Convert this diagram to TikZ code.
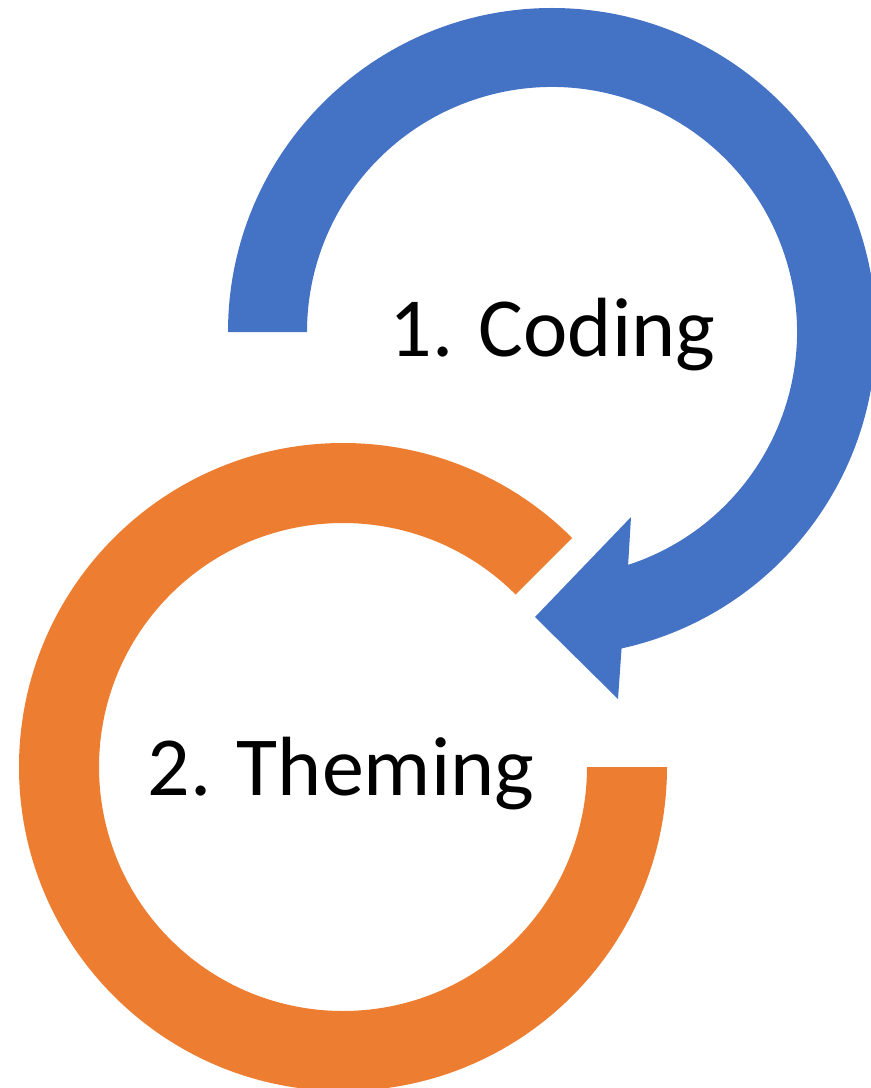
\documentclass[tikz,border=0pt]{standalone}
\usepackage{xcolor}
\usepackage{tikz}
\usepackage{fontspec}
\setmainfont{Carlito}
\usetikzlibrary{positioning}
\tikzset{
  ring/.style={draw=none},
  steplabel/.style={font=\fontsize{23.9pt}{28pt}\selectfont, text=black, inner sep=0pt, anchor=base},
}
\definecolor{codeblue}{HTML}{4472C4}
\definecolor{themeorange}{HTML}{ED7D31}

\begin{document}
\begin{tikzpicture}[x=0.01cm, y=0.01cm]
    \useasboundingbox (0,0) rectangle (871,-1088);
    % centres of the two rings
    \coordinate (cc) at (552,-332);
    \coordinate (tc) at (343,-767);
    % coding ring, ends in an arrow head
    \fill[ring, codeblue] ([shift={(180:324)}]cc)
        arc[start angle=180, end angle=-77.6, radius=324]
        -- (618,-699) -- (535,-617) -- (631,-517)
        -- ([shift={(-71.9:245)}]cc)
        arc[start angle=-71.9, end angle=180, radius=245]
        -- cycle;
    % theming ring, open at the top right
    \fill[ring, themeorange] ([shift={(0:324)}]tc)
        arc[start angle=0, end angle=-315, radius=324]
        -- ([shift={(45:244)}]tc)
        arc[start angle=45, end angle=360, radius=244]
        -- cycle;
    \node[steplabel] (coding) at (552.5,-356) {1. Coding};
    \node[steplabel] (theming) at (341,-795) {2. Theming};
  \end{tikzpicture}
\end{document}
